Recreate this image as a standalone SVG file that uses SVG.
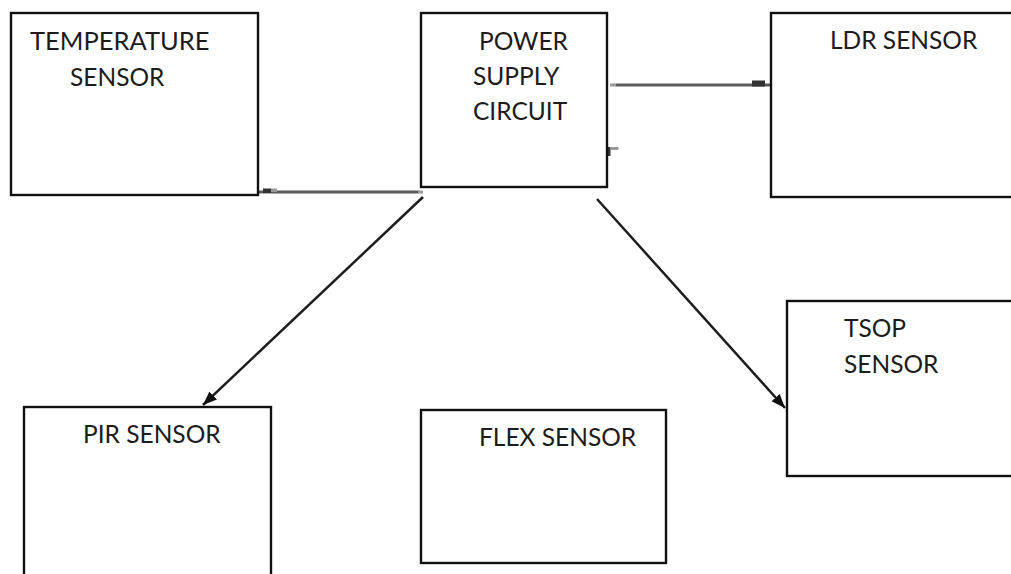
<svg xmlns="http://www.w3.org/2000/svg" width="1011" height="574" viewBox="0 0 1011 574">
<style>
.box{fill:#ffffff;stroke:#111111;stroke-width:2.4}
.lbl{font-family:Lato,"Liberation Sans",sans-serif;font-size:24.5px;fill:#1c1c1c}
.wide{font-size:25.5px}
.wire{stroke:#5a5a5a;stroke-width:3;fill:none}
.arrow{stroke:#1e1e1e;stroke-width:2.5;fill:none;marker-end:url(#ah)}
.blob{fill:#333333}
.blobl{fill:#9a9a9a}
</style>
<defs>
<marker id="ah" markerUnits="userSpaceOnUse" markerWidth="15" markerHeight="12" refX="14" refY="5.5" orient="auto">
<path d="M0,0 L14,5.5 L0,11 z" fill="#111111"/>
</marker>
</defs>
<rect width="1011" height="574" fill="#ffffff"/>
<g id="connectors">
<line class="wire" x1="258" y1="192" x2="419" y2="192"/>
<rect class="blobl" x="418" y="190.5" width="5" height="3"/>
<rect class="blob" x="263" y="188.5" width="8" height="4.5"/>
<rect class="blobl" x="271" y="188.5" width="6" height="3.5"/>
<line class="wire" x1="616" y1="85" x2="770" y2="85"/>
<rect class="blobl" x="610" y="83.5" width="6" height="3"/>
<rect class="blob" x="752" y="80.5" width="13" height="6"/>
<rect class="blob" x="607.5" y="147" width="3" height="9"/>
<rect class="blobl" x="610.5" y="147" width="8" height="3"/>
<line class="arrow" x1="423" y1="197" x2="203" y2="405"/>
<line class="arrow" x1="597" y1="199" x2="785" y2="408"/>
</g>
<g id="temperature">
<rect class="box" x="11" y="13" width="247" height="182"/>
<text class="lbl wide" x="30" y="50">TEMPERATURE</text>
<text class="lbl" x="70" y="86">SENSOR</text>
</g>
<g id="power">
<rect class="box" x="421" y="13" width="186" height="174"/>
<text class="lbl" x="479" y="50">POWER</text>
<text class="lbl" x="473" y="85">SUPPLY</text>
<text class="lbl" x="473" y="120">CIRCUIT</text>
</g>
<g id="ldr">
<rect class="box" x="771" y="13" width="260" height="184"/>
<text class="lbl" x="830" y="49">LDR SENSOR</text>
</g>
<g id="pir">
<rect class="box" x="24" y="407" width="247" height="200"/>
<text class="lbl" x="83" y="443">PIR SENSOR</text>
</g>
<g id="flex">
<rect class="box" x="421" y="410" width="245" height="153"/>
<text class="lbl" x="479" y="446">FLEX SENSOR</text>
</g>
<g id="tsop">
<rect class="box" x="787" y="301" width="240" height="175"/>
<text class="lbl" x="844" y="337">TSOP</text>
<text class="lbl" x="844" y="373">SENSOR</text>
</g>
</svg>
